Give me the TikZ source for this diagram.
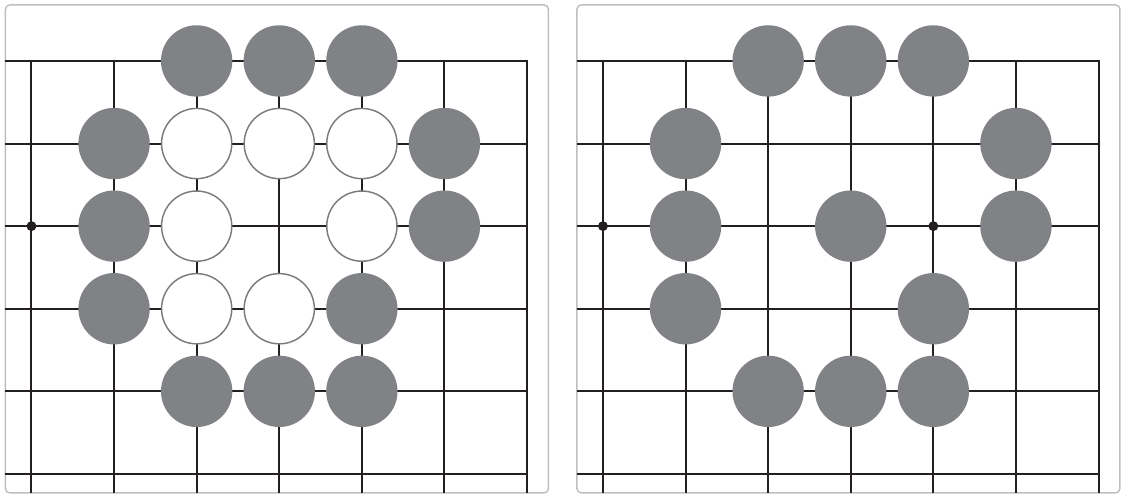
\documentclass[tikz,border=0pt]{standalone}
\usepackage{tikz}
\usetikzlibrary{calc}
\definecolor{goban-stone}{HTML}{808285}
\definecolor{goban-line}{HTML}{231F20}
\definecolor{goban-frame}{HTML}{BEBEBE}
\tikzset{
  sortsten/.style={fill=goban-stone},
  hvidsten/.style={fill=white,draw=goban-stone!95!black,line width=0.5pt},
}

\begin{document}
\begin{tikzpicture}[line width=0.7pt]
  % Billedramme
  \useasboundingbox (-0.381,-0.242) rectangle (13.203,5.738);
  % To brætter side om side
  \foreach \dx in {0,6.919} {
    \begin{scope}[xshift=\dx cm]
      % Panel
      \draw[goban-frame,line width=0.5pt,rounded corners=1.5pt]
        (-0.315,-0.230) rectangle (6.259,5.678);
      % Gitter
      \foreach \y in {0,...,4} \draw[goban-line] (-0.315,\y) -- (6,\y);
      \foreach \x in {0,...,5} \draw[goban-line] (\x,-0.230) -- (\x,5);
      % Brættets kant (top og højre)
      \draw[goban-line] (-0.315,5) -- (6,5) -- (6,-0.230);
      % Stjernepunkt
      \fill[goban-line] (0,3) circle (0.06);
    \end{scope}
  }

  % Venstre bræt: sorte sten
  \foreach \p in {(2,5),(3,5),(4,5),(1,4),(5,4),(1,3),(5,3),(1,2),(4,2),(2,1),(3,1),(4,1)}
    \fill[sortsten] \p circle (0.432);
  % Venstre bræt: hvide sten
  \foreach \p in {(2,4),(3,4),(4,4),(2,3),(4,3),(2,2),(3,2)}
    \draw[hvidsten] \p circle (0.425);

  % Højre bræt: sorte sten
  \begin{scope}[xshift=6.919cm]
    \foreach \p in {(2,5),(3,5),(4,5),(1,4),(5,4),(1,3),(3,3),(5,3),(1,2),(4,2),(2,1),(3,1),(4,1)}
      \fill[sortsten] \p circle (0.432);
    \fill[goban-line] (4,3) circle (0.06);
  \end{scope}
\end{tikzpicture}
\end{document}
